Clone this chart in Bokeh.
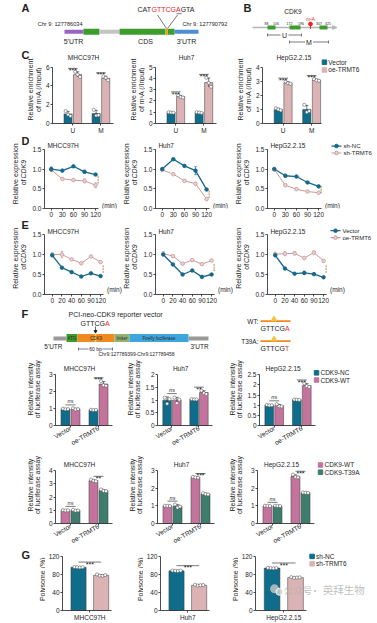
import numpy as np
from math import pi
from bokeh.plotting import figure
from bokeh.layouts import column, row
from bokeh.models import Range1d, FixedTicker, NumeralTickFormatter
from bokeh.core.properties import value
from bokeh.embed import file_html
from bokeh.resources import INLINE

FONT = "Liberation Sans"
CJK = "Noto Sans CJK SC"
INK = "#1e1e1e"
RED = "#e8262b"
TEAL = "#0f6d8b"
PINK = "#dcb3b4"
MAUVE = "#c4749c"
GREEN = "#3e7c6d"
LTEAL = "#17688a"
LPINK = "#c99a9c"
XL, XR = 0, 377   # page extent actually used by the Bokeh template (no body margin)

# ---------------- data ----------------
cell_lines = ["MHCC97H", "Huh7", "HepG2.2.15"]

# C: m1A enrichment, regions U / M
c_regions = ["U", "M"]
c_ymax = [6, 5, 4]
c_yticks = [[0, 2, 4, 6], [0, 1, 2, 3, 4, 5], [0, 1, 2, 3, 4]]
c_vector = [[1.02, 1.06], [0.98, 0.97], [1.0, 1.0]]
c_oe = [[5.22, 4.82], [2.39, 3.63], [2.88, 3.08]]
c_vector_dots = [[[1.32, 0.95, 0.80], [1.45, 0.85, 0.88]],
                 [[1.0, 0.97, 0.96], [1.0, 0.97, 0.94]],
                 [[1.08, 1.0, 0.93], [1.32, 0.80, 0.88]]]
c_oe_dots = [[[5.5, 5.2, 4.95], [5.0, 4.85, 4.6]],
             [[2.5, 2.36, 2.3], [4.05, 3.6, 3.25]],
             [[2.97, 2.85, 2.82], [3.15, 3.06, 3.03]]]

# D: CDK9 mRNA decay, sh-NC vs sh-TRMT6
d_time = [0, 30, 60, 90, 120]
d_nc = [[1.0, 0.96, 1.07, 0.93, 0.86], [1.0, 1.25, 1.08, 0.96, 0.48], [1.0, 0.83, 0.81, 0.66, 0.56]]
d_nc_err = [[0.05, 0.02, 0.02, 0.04, 0.02], [0.03, 0.02, 0.02, 0.10, 0.02], [0.02, 0.04, 0.02, 0.02, 0.02]]
d_sh = [[0.98, 0.75, 0.72, 0.70, 0.59], [0.98, 0.87, 0.70, 0.63, 0.24], [0.99, 0.59, 0.49, 0.43, 0.40]]
d_sh_err = [[0.04, 0.02, 0.02, 0.05, 0.06], [0.02, 0.02, 0.02, 0.02, 0.02], [0.02, 0.03, 0.03, 0.02, 0.02]]

# E: CDK9 mRNA decay, Vector vs oe-TRMT6
e_time = ["0", "20", "40", "60", "90", "120"]
e_vec = [[0.98, 0.67, 0.56, 0.45, 0.53, 0.46], [1.0, 0.75, 0.50, 0.60, 0.44, 0.50], [0.98, 0.65, 0.52, 0.54, 0.51, 0.43]]
e_vec_err = [[0.03, 0.02, 0.02, 0.02, 0.02, 0.02], [0.02, 0.02, 0.02, 0.02, 0.02, 0.02], [0.03, 0.02, 0.02, 0.04, 0.02, 0.02]]
e_oe = [[1.0, 1.0, 0.88, 0.78, 0.95, 0.81], [1.02, 0.96, 0.77, 0.86, 0.76, 0.85], [1.01, 1.02, 1.03, 0.91, 1.05, 0.84]]
e_oe_err = [[0.04, 0.08, 0.02, 0.02, 0.02, 0.02], [0.05, 0.02, 0.02, 0.02, 0.02, 0.02], [0.05, 0.05, 0.04, 0.02, 0.04, 0.02]]

# F (upper): luciferase, CDK9-NC vs CDK9-WT
f_groups = ["Vector", "oe-TRMT6"]
f1_ymax = [3, 2.0, 2.5]
f1_yticks = [[0, 1, 2, 3], [0, 0.5, 1.0, 1.5, 2.0], [0, 0.5, 1.0, 1.5, 2.0, 2.5]]
f1_nc = [[0.97, 0.92], [1.0, 1.03], [1.0, 1.27]]
f1_nc_dots = [[[0.99, 0.96, 0.97], [0.93, 0.91, 0.92]],
              [[1.10, 0.86, 1.04], [1.04, 1.03, 1.03]],
              [[1.01, 0.99, 1.0], [1.28, 1.27, 1.26]]]
f1_wt = [[0.98, 2.45], [1.0, 1.3], [0.98, 1.97]]
f1_wt_dots = [[[1.02, 0.95, 0.97], [2.62, 2.38, 2.35]],
              [[1.10, 0.88, 1.02], [1.38, 1.28, 1.24]],
              [[1.05, 0.95, 0.94], [2.08, 1.94, 1.90]]]
f1_sig = [["ns", "***"], ["ns", "**"], ["ns", "***"]]

# F (lower): luciferase, CDK9-WT vs CDK9-T39A
f2_ymax = [4, 3, 3]
f2_yticks = [[0, 1, 2, 3, 4], [0, 1, 2, 3], [0, 1, 2, 3]]
f2_wt = [[1.0, 3.25], [1.0, 2.62], [1.0, 2.68]]
f2_wt_dots = [[[1.01, 0.99, 1.0], [3.32, 3.24, 3.20]],
              [[1.01, 1.0, 0.99], [2.65, 2.62, 2.60]],
              [[1.01, 1.0, 0.99], [2.78, 2.65, 2.62]]]
f2_t39a = [[1.0, 2.5], [0.98, 1.68], [1.0, 1.75]]
f2_t39a_dots = [[[1.04, 0.97, 0.99], [2.58, 2.48, 2.45]],
                [[1.08, 0.90, 0.96], [1.72, 1.67, 1.65]],
                [[1.01, 1.0, 0.99], [1.76, 1.75, 1.74]]]
f2_sig = [["ns", "**"], ["ns", "***"], ["ns", "***"]]

# G: polysome (%)
g_nc = [96, 88, 94]
g_nc_dots = [[96.5, 96, 95.5, 96], [88.5, 88, 87.5, 88.5], [94.5, 94, 93.5, 94]]
g_sh = [78, 56, 73]
g_sh_dots = [[80, 77.5, 77, 78.5], [57, 55.5, 56, 56.5], [74, 72.5, 73, 73.5]]

# ---------------- helpers ----------------
CW = {'G': .778, 'T': .611, 'C': .722, 'A': .667, 'o': .556, 'f': .278, ' ': .278, 'D': .722, 'K': .667}


def tw(s, fs):
    return sum(CW.get(ch, 0.556) for ch in s) * fs


def lin(v1, p1, v2, p2):
    k = (v2 - v1) / float(p2 - p1)
    return lambda p: v1 + (p - p1) * k


def T(p, x, y, s, size=6.5, color=INK, align="center", baseline="middle", angle=0.0,
      style="normal", font=FONT, alpha=1.0):
    p.text(x=[x], y=[y], text=[s], text_font=value(font), text_font_size=f"{size}px",
           text_color=color, text_align=align, text_baseline=baseline, angle=angle,
           text_font_style=style, text_alpha=alpha)


class Panel:
    def __init__(self, x0, x1, y0, y1, fx0, fx1, fy0, fy1, xmap=None, ymap=None, axes=True):
        self.X = lin(*(xmap or (fx0, fx0, fx1, fx1)))
        self.Y = lin(*(ymap or (fy0, fy0, fy1, fy1)))
        kw = {} if axes else dict(x_axis_type=None, y_axis_type=None)
        p = figure(width=x1 - x0, height=y1 - y0,
                   x_range=Range1d(self.X(fx0), self.X(fx1)),
                   y_range=Range1d(self.Y(fy1), self.Y(fy0)),
                   min_border_left=fx0 - x0, min_border_right=x1 - fx1,
                   min_border_top=fy0 - y0, min_border_bottom=y1 - fy1,
                   output_backend="svg", toolbar_location=None, **kw)
        p.outline_line_color = None
        p.xgrid.visible = False
        p.ygrid.visible = False
        p.background_fill_color = "white"
        p.border_fill_color = "white"
        self.p = p

    def py(self, d):
        return abs(self.Y(0) - self.Y(d))

    def pxx(self, d):
        return abs(self.X(d) - self.X(0))

    def t(self, px, py, s, **kw):
        T(self.p, self.X(px), self.Y(py), s, **kw)

    def quad(self, l, r, t, b, color):
        self.p.quad(left=[l], right=[r], top=[t], bottom=[b], fill_color=color, line_color=None)

    def seg(self, x0, y0, x1, y1, color=INK, w=0.7):
        self.p.segment(x0=[x0], y0=[y0], x1=[x1], y1=[y1], line_color=color, line_width=w)


class RowB:
    """A horizontal strip of figures: text-only strips between the plot panels."""
    def __init__(self, y0, y1):
        self.y0, self.y1 = y0, y1
        self.items, self.labs = [], []
        self.cur = XL

    def _lab(self, x1):
        lab = Panel(self.cur, x1, self.y0, self.y1, self.cur, x1, self.y0, self.y1, axes=False)
        self.labs.append((self.cur, x1, lab))
        self.items.append(lab.p)
        self.cur = x1

    def add(self, x0, x1, fx0, fx1, fy1, xmap, ymap):
        if x0 > self.cur:
            self._lab(x0)
        pn = Panel(x0, x1, self.y0, self.y1, fx0, fx1, self.y0, fy1, xmap=xmap, ymap=ymap)
        self.items.append(pn.p)
        self.cur = x1
        return pn

    def finish(self):
        if self.cur < XR:
            self._lab(XR)
        return row(*self.items)

    def lab_at(self, px):
        for a, b, lab in self.labs:
            if a <= px < b:
                return lab
        raise ValueError(px)

    def t(self, px, py, s, **kw):
        self.lab_at(px).t(px, py, s, **kw)


def style_axes(pn, xticks, yticks, x_end_page, ymax, xlabels=None, yfmt=None, xrot=None, xstand=1):
    p = pn.p
    p.xaxis.ticker = FixedTicker(ticks=list(xticks))
    p.yaxis.ticker = FixedTicker(ticks=list(yticks))
    if xlabels is not None:
        p.xaxis.major_label_overrides = {t: s for t, s in zip(xticks, xlabels)}
    if yfmt:
        p.yaxis.formatter = NumeralTickFormatter(format=yfmt)
    p.xaxis.bounds = (p.x_range.start, pn.X(x_end_page))
    p.yaxis.bounds = (0, ymax)
    for ax in p.axis:
        ax.axis_line_color = INK
        ax.axis_line_width = 0.8
        ax.major_tick_line_color = INK
        ax.major_tick_line_width = 0.8
        ax.major_tick_in = 0
        ax.major_tick_out = 2
        ax.minor_tick_line_color = None
        ax.major_label_text_font = FONT
        ax.major_label_text_font_size = "6.5px"
        ax.major_label_text_color = INK
        ax.major_label_standoff = 1
    p.xaxis.major_label_standoff = xstand
    if xrot:
        p.xaxis.major_label_orientation = xrot


def bar_series(pn, xs, means, dots, color, width, jit):
    p = pn.p
    p.vbar(x=xs, top=means, width=width, bottom=0, fill_color=color,
           line_color="#3a3a3a", line_width=0.5)
    sds = [float(np.std(d, ddof=1)) for d in dots]
    lo = [m - s for m, s in zip(means, sds)]
    hi = [m + s for m, s in zip(means, sds)]
    p.segment(x0=xs, y0=lo, x1=xs, y1=hi, line_color=INK, line_width=0.6)
    cw = width * 0.2
    p.segment(x0=[x - cw for x in xs], y0=hi, x1=[x + cw for x in xs], y1=hi, line_color=INK, line_width=0.6)
    dx, dy = [], []
    for x, d in zip(xs, dots):
        n = len(d)
        for k, v in enumerate(d):
            dx.append(x + (k - (n - 1) / 2.0) * jit)
            dy.append(v)
    p.scatter(dx, dy, size=3.2, fill_color="white", line_color="#444444", line_width=0.5)
    return [max(max(d), h) for d, h in zip(dots, hi)]


def sig_h(pn, xa, xb, top, s):
    y = top + pn.py(3.5)
    pn.p.segment(x0=[xa], x1=[xb], y0=[y], y1=[y], line_color=INK, line_width=0.6)
    if s == "ns":
        T(pn.p, (xa + xb) / 2, y + pn.py(0.6), "ns", size=5.5, baseline="bottom", style="italic")
    else:
        T(pn.p, (xa + xb) / 2, y - pn.py(2.2), s, size=7, baseline="alphabetic")


def sig_v(pn, x, ya, yb, s="***"):
    xl = x + pn.pxx(4)
    pn.p.segment(x0=[xl], x1=[xl], y0=[ya], y1=[yb], line_color=INK, line_width=0.6)
    T(pn.p, xl - pn.pxx(2.2), (ya + yb) / 2, s, size=7, angle=-pi / 2, baseline="alphabetic")


def line_series(pn, xs, ys, errs, color, fill, lw):
    p = pn.p
    lo = [y - e for y, e in zip(ys, errs)]
    hi = [y + e for y, e in zip(ys, errs)]
    p.segment(x0=xs, x1=xs, y0=lo, y1=hi, line_color=color, line_width=0.7)
    cw = pn.pxx(1.3)
    p.segment(x0=[x - cw for x in xs], x1=[x + cw for x in xs], y0=hi, y1=hi, line_color=color, line_width=0.7)
    p.segment(x0=[x - cw for x in xs], x1=[x + cw for x in xs], y0=lo, y1=lo, line_color=color, line_width=0.7)
    p.line(xs, ys, line_color=color, line_width=lw)
    p.scatter(xs, ys, size=3.6, fill_color=fill, line_color=color, line_width=0.8)


def legend_sq(pn, px, py, color, label, fs=6.5):
    pn.p.scatter([pn.X(px)], [pn.Y(py)], marker="square", size=4.5, fill_color=color, line_color=color)
    pn.t(px + 4, py, label, size=fs, align="left")


def legend_line(pn, px0, px1, py, color, fill, label, fs=6.0):
    pn.p.line([pn.X(px0), pn.X(px1)], [pn.Y(py), pn.Y(py)], line_color=color, line_width=1.2)
    pn.p.scatter([pn.X((px0 + px1) / 2.0)], [pn.Y(py)], size=3.6, fill_color=fill, line_color=color)
    pn.t(px1 + 2, py, label, size=fs, align="left")


def ylab(rb, px, py, s, fs=7):
    rb.t(px, py, s, size=fs, angle=pi / 2)


def ylab_italic(rb, px, py, plain, ital, fs=7):
    w1, w2 = tw(plain, fs), tw(ital, fs)
    start = py + (w1 + w2) / 2.0
    lab = rb.lab_at(px)
    lab.t(px, start, plain, size=fs, angle=pi / 2, align="left")
    lab.t(px, start - w1, ital, size=fs, angle=pi / 2, align="left", style="italic")


# ---------------- row A / B (diagrams) ----------------
ab = Panel(XL, XR, 0, 50, XL, XR, 0, 50, axes=False)
S = 1
ab.t(21, 6 + S, "A", size=11, style="bold", align="left")
ab.t(137, 8 + S, "CAT", size=7, align="left")
ab.t(137 + tw("CAT", 7), 8 + S, "GTTCGA", size=7, align="left", color=RED)
ab.t(137 + tw("CATGTTCGA", 7), 8 + S, "GTA", size=7, align="left")
ab.seg(176, 12.2 + S, 181, 12.2 + S, w=0.6)
ab.seg(157, 13.5 + S, 166, 27 + S, w=0.6)
ab.seg(177, 13.5 + S, 167, 27 + S, w=0.6)
ab.t(82, 22.7 + S, "Chr 9: 127786034", size=5.6, align="right")
ab.t(182, 22.7 + S, "Chr 9: 127790792", size=5.6, align="left")
gene_l = [64, 83, 99, 119, 167, 174]
gene_r = [83, 99, 119, 165, 174, 198]
gene_c = ["#9b63c4", "#3e9c2c", "#c4c4c4", "#3e9c2c", "#3e9c2c", "#4b8ed6"]
gene_thick = [False, True, False, True, True, False]
for l_, r_, c_, th in zip(gene_l, gene_r, gene_c, gene_thick):
    if th:
        ab.quad(l_, r_, 27.3 + S, 33.3 + S, c_)
    else:
        ab.quad(l_, r_, 28.3 + S, 32.3 + S, c_)
ab.quad(165, 167, 26.8 + S, 33.8 + S, "#f39a1e")
ab.t(73, 40 + S, "5'UTR", size=7)
ab.t(145, 40 + S, "CDS", size=7)
ab.t(186, 40 + S, "3'UTR", size=7)
# B
ab.t(243, 6 + S, "B", size=11, style="bold", align="left")
ab.t(292.5, 10 + S, "CDK9", size=6.5)
ab.quad(252, 332, 25.2 + S, 26.8 + S, "#b5b5b5")
ab.p.patch([332, 336.5, 332], [24.2 + S, 26 + S, 27.8 + S], color="#b5b5b5")
for l_, r_ in zip([267, 289, 319], [275, 300, 327]):
    ab.quad(l_, r_, 24 + S, 28 + S, "#3e9c2c")
for xx, s in zip([266, 275.5, 289, 300.5, 318.5, 327.5], ["88", "106", "172", "196", "307", "325"]):
    ab.t(xx, 21.6 + S, s, size=3.5)
ab.seg(310, 22.5 + S, 310, 27.5 + S, color=RED, w=1.0)
ab.p.scatter([310], [22.5 + S], size=3.8, color=RED)
ab.t(310, 18.3 + S, "m⁶A", size=4.5, color=RED)
for (a, b_, lab_, yy) in [(267, 301, "U", 33.5), (289, 328, "M", 40.5)]:
    mid = (a + b_) / 2.0
    ab.seg(a, yy + S, mid - 4, yy + S, color="#444", w=0.7)
    ab.seg(mid + 4, yy + S, b_, yy + S, color="#444", w=0.7)
    ab.seg(a, yy - 1.5 + S, a, yy + 1.5 + S, color="#444", w=0.7)
    ab.seg(b_, yy - 1.5 + S, b_, yy + 1.5 + S, color="#444", w=0.7)
    ab.t(mid, yy + S, lab_, size=7)

# ---------------- row C ----------------
rc = RowB(50, 136)
C_AXIS = [50, 153, 260]
C_END = [113, 216, 320]
c_panels = []
for i in range(3):
    ax = C_AXIS[i]
    last = i == 2
    x1 = XR if last else C_END[i] + 2
    fx1 = XR if last else C_END[i]
    pn = rc.add(ax - 8, x1, ax, fx1, 125, xmap=(1, ax + 21, 2, ax + 50),
                ymap=(0, 125, c_ymax[i], 67))
    style_axes(pn, [1, 2], c_yticks[i], C_END[i], c_ymax[i], xlabels=c_regions)
    xv = [1 - 0.17, 2 - 0.17]
    xo = [1 + 0.17, 2 + 0.17]
    tv = bar_series(pn, xv, c_vector[i], c_vector_dots[i], TEAL, 0.29, 0.085)
    to = bar_series(pn, xo, c_oe[i], c_oe_dots[i], PINK, 0.29, 0.085)
    for j in range(2):
        sig_h(pn, xv[j], xo[j], max(tv[j], to[j]), "***")
    pn.t(ax + 32, 57, cell_lines[i], size=6.5)
    c_panels.append(pn)
row_c = rc.finish()
for i in range(3):
    ax = C_AXIS[i]
    ylab(rc, ax - 20, 96, "Relative enrichment")
    ylab(rc, ax - 12.5, 96, "of m¹A (/Input)")
rc.t(21, 55.5, "C", size=11, style="bold", align="left")
legend_sq(c_panels[2], 323, 62, TEAL, "Vector")
legend_sq(c_panels[2], 323, 70, PINK, "oe-TRMT6")

# ---------------- row D ----------------
rd = RowB(136, 219)
D_AXIS = [42, 153, 265]
D_X0 = [49, 160, 272]
D_X1 = [95, 206, 318]
for i in range(3):
    ax = D_AXIS[i]
    pn = rd.add(ax - 13, D_X1[i] + 6, ax, D_X1[i] + 3, 209, xmap=(0, D_X0[i], 120, D_X1[i]),
                ymap=(0, 209, 1.5, 149))
    style_axes(pn, d_time, [0, 0.5, 1.0, 1.5], D_X1[i] + 3, 1.5, yfmt="0.0")
    line_series(pn, d_time, d_sh[i], d_sh_err[i], LPINK, "#ecd2d2", 1.0)
    line_series(pn, d_time, d_nc[i], d_nc_err[i], LTEAL, LTEAL, 1.3)
    sig_v(pn, d_time[-1], d_nc[i][-1], d_sh[i][-1])
    pn.t(ax + 3, 145.5, cell_lines[i], size=6.5, align="left")
row_d = rd.finish()
for i in range(3):
    ax = D_AXIS[i]
    rd.t(D_X1[i] + 6.5, 215.5, "(min)", size=6.5, align="left")
    ylab(rd, ax - 27, 179, "Relative expression")
    ylab_italic(rd, ax - 19, 179, "of ", "CDK9")
rd.t(21, 141.5, "D", size=11, style="bold", align="left")
dl = rd.lab_at(335)
legend_line(dl, 331, 341, 147, LTEAL, LTEAL, "sh-NC")
legend_line(dl, 331, 341, 155, LPINK, "#ecd2d2", "sh-TRMT6")

# ---------------- row E ----------------
re_ = RowB(219, 306)
E_AXIS = [42, 153, 265]
E_X0 = [50, 161, 273]
E_X5 = [100, 211, 323]
e_idx = list(range(len(e_time)))
for i in range(3):
    ax = E_AXIS[i]
    pn = re_.add(ax - 13, E_X5[i] + 6, ax, E_X5[i] + 3, 294, xmap=(0, E_X0[i], 5, E_X5[i]),
                 ymap=(0, 294, 1.5, 234))
    style_axes(pn, e_idx, [0, 0.5, 1.0, 1.5], E_X5[i] + 3, 1.5, xlabels=e_time, yfmt="0.0")
    line_series(pn, e_idx, e_oe[i], e_oe_err[i], LPINK, "#ecd2d2", 1.0)
    line_series(pn, e_idx, e_vec[i], e_vec_err[i], LTEAL, LTEAL, 1.3)
    sig_v(pn, e_idx[-1], e_vec[i][-1], e_oe[i][-1])
    pn.t(ax + 3, 231, cell_lines[i], size=6.5, align="left")
row_e = re_.finish()
for i in range(3):
    ax = E_AXIS[i]
    re_.t(E_X5[i] + 6.5, 300.5, "(min)", size=6.5, align="left")
    ylab(re_, ax - 27, 264, "Relative expression")
    ylab_italic(re_, ax - 19, 264, "of ", "CDK9")
re_.t(21, 225, "E", size=11, style="bold", align="left")
el = re_.lab_at(335)
legend_line(el, 330, 340, 232, LTEAL, LTEAL, "Vector")
legend_line(el, 330, 340, 240, LPINK, "#ecd2d2", "oe-TRMT6")

# ---------------- row F diagram ----------------
fd = Panel(XL, XR, 306, 358, XL, XR, 306, 358, axes=False)
fd.t(21, 313.5, "F", size=11, style="bold", align="left")
fd.t(68, 313.5, "PCI-neo-CDK9 reporter vector", size=7, align="left")
fd.t(80, 322.5, "GTTCG", size=7, align="left")
fd.t(80 + tw("GTTCG", 7), 322.5, "A", size=7, align="left", color=RED)
fd.seg(95, 326, 95, 330.5, w=0.7)
fd.p.patch([93.6, 96.4, 95], [330, 330, 332.6], color=INK)
fd.quad(53, 66, 336, 340, "#9a9a9a")
fd.quad(188, 208, 336, 340, "#9a9a9a")
vec_l = [66, 77, 114, 129]
vec_r = [77, 114, 129, 188]
vec_c = ["#3e9c2c", "#ef8a1f", "#93b271", "#3ea6dc"]
vec_t = ["ATG", "CDK9", "linker", "Firefly luciferase"]
for l_, r_, c_ in zip(vec_l, vec_r, vec_c):
    fd.quad(l_, r_, 333.5, 341.5, c_)
fd.quad(94.2, 95.8, 333.5, 341.5, "#f7d36a")
for l_, r_, t_ in zip(vec_l, vec_r, vec_t):
    fd.t((l_ + r_) / 2.0, 337.6, t_, size=4.5, color="#2a2a2a")
fd.t(62, 345.5, "5'UTR", size=6.5, align="right")
fd.t(190, 345.5, "3'UTR", size=6.5, align="left")
fd.seg(78, 348.5, 88, 348.5, color="#2b4a7a", w=0.7)
fd.seg(102, 348.5, 112, 348.5, color="#2b4a7a", w=0.7)
fd.seg(78, 347, 78, 350, color="#2b4a7a", w=0.7)
fd.seg(112, 347, 112, 350, color="#2b4a7a", w=0.7)
fd.t(95, 348.5, "60 bp", size=5)
fd.t(136, 353.6, "Chr9:127789399-Chr9:127789458", size=5)
for (lab_, yl, last) in [("WT:", 320.5, "A"), ("T39A:", 340.5, "T")]:
    fd.t(258, yl, lab_, size=6.5, align="right")
    fd.quad(260, 290, yl - 0.8, yl + 1.0, "#ef8a1f")
    fd.p.scatter([273.5], [yl - 1.8], marker="triangle", size=5.5, fill_color="#f5c542", line_color="#f5c542")
    fd.t(260, yl + 7, "GTTCG", size=7, align="left")
    fd.t(260 + tw("GTTCG", 7), yl + 7, last, size=7, align="left", color=RED)


# ---------------- rows F bars ----------------
def f_row(y0, y1, fy1, ytop, axes_x, ymaxs, yticks, s1, s1d, s2, s2d, c1, c2, sigs, ty, ylc):
    rb = RowB(y0, y1)
    out = []
    for i in range(3):
        ax = axes_x[i]
        last = i == 2
        x1 = XR if last else ax + 59
        fx1 = XR if last else ax + 57
        pn = rb.add(ax - 13, x1, ax, fx1, fy1, xmap=(1, ax + 15, 2, ax + 43),
                    ymap=(0, fy1, ymaxs[i], ytop))
        style_axes(pn, [1, 2], yticks[i], ax + 57, ymaxs[i], xlabels=f_groups, xrot=pi / 6, xstand=0)
        xa = [1 - 0.18, 2 - 0.18]
        xb = [1 + 0.18, 2 + 0.18]
        ta = bar_series(pn, xa, s1[i], s1d[i], c1, 0.32, 0.09)
        tb = bar_series(pn, xb, s2[i], s2d[i], c2, 0.32, 0.09)
        for j in range(2):
            sig_h(pn, xa[j], xb[j], max(ta[j], tb[j]), sigs[i][j])
        pn.t(ax + 24, ty, cell_lines[i], size=6.5)
        out.append(pn)
    rw = rb.finish()
    for i in range(3):
        ax = axes_x[i]
        ylab(rb, ax - 25, ylc, "Relative intensity")
        ylab(rb, ax - 18, ylc, "of luciferase assay")
    return out, rw


f1_panels, row_f1 = f_row(358, 452, 428, 375, [55, 155, 257], f1_ymax, f1_yticks,
                          f1_nc, f1_nc_dots, f1_wt, f1_wt_dots, TEAL, MAUVE, f1_sig, 368, 401)
legend_sq(f1_panels[2], 315, 373, TEAL, "CDK9-NC")
legend_sq(f1_panels[2], 315, 380.5, MAUVE, "CDK9-WT")
f2_panels, row_f2 = f_row(452, 550, 526, 471, [55, 157, 257], f2_ymax, f2_yticks,
                          f2_wt, f2_wt_dots, f2_t39a, f2_t39a_dots, MAUVE, GREEN, f2_sig, 464, 497)
legend_sq(f2_panels[2], 320, 465, MAUVE, "CDK9-WT")
legend_sq(f2_panels[2], 320, 472.5, GREEN, "CDK9-T39A")

# ---------------- row G ----------------
rg = RowB(550, 623)
G_AXIS = [59, 157, 252]
g_panels = []
for i in range(3):
    ax = G_AXIS[i]
    last = i == 2
    x1 = XR if last else ax + 54
    fx1 = XR if last else ax + 52
    pn = rg.add(ax - 14, x1, ax, fx1, 611, xmap=(1, ax + 17, 2, ax + 41),
                ymap=(0, 611, 120, 556))
    style_axes(pn, [1.5], [0, 40, 80, 120], ax + 52, 120, xlabels=[cell_lines[i]])
    ta = bar_series(pn, [1], [g_nc[i]], [g_nc_dots[i]], TEAL, 0.67, 0.12)
    tb = bar_series(pn, [2], [g_sh[i]], [g_sh_dots[i]], PINK, 0.67, 0.12)
    sig_h(pn, 1, 2, max(ta[0], tb[0]) + pn.py(1.5), "***")
    g_panels.append(pn)
row_g = rg.finish()
for i in range(3):
    ylab(rg, G_AXIS[i] - 17.5, 585, "Polysome (%)")
rg.t(21, 555.5, "G", size=11, style="bold", align="left")
legend_sq(g_panels[2], 310, 556, TEAL, "sh-NC")
legend_sq(g_panels[2], 310, 563.5, PINK, "sh-TRMT6")
gw = g_panels[2]
gw.p.scatter([gw.X(271.5)], [gw.Y(589)], size=9, fill_color="#c9c9c9", line_color=None, fill_alpha=0.8)
gw.p.scatter([gw.X(276.5)], [gw.Y(592)], size=7, fill_color="#d4d4d4", line_color="white", line_width=0.8, fill_alpha=0.85)
gw.t(281, 590, "公众号", size=9.5, align="left", color="#b3b3b3", font=CJK, alpha=0.85)
gw.t(313, 590, "·", size=9.5, color="#b3b3b3", font=CJK, alpha=0.85)
gw.t(321, 590, "英拜生物", size=10.5, align="left", color="#b3b3b3", font=CJK, alpha=0.85)

layout = column(ab.p, row_c, row_d, row_e, fd.p, row_f1, row_f2, row_g)

open("out.html", "w").write(file_html(layout, INLINE))
